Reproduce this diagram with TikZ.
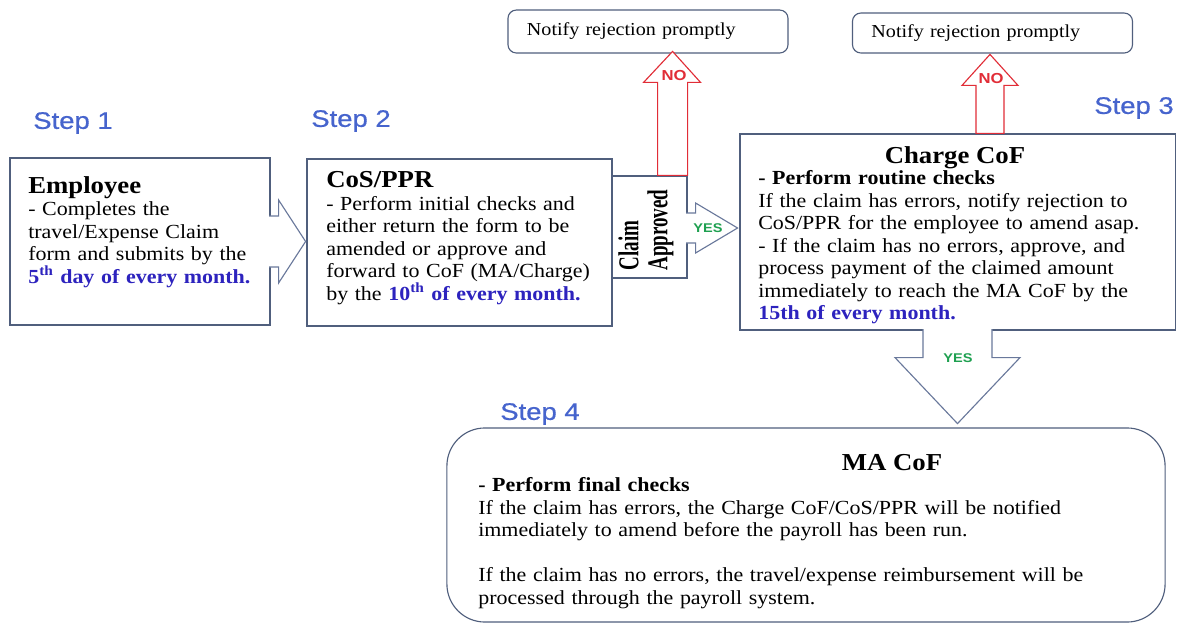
\documentclass[tikz,border=0pt]{standalone}
\usepackage{fontspec}
\setmainfont{Liberation Serif}[FakeStretch=1.1]
\setsansfont{Liberation Sans}[FakeStretch=1.15]
\newfontfamily\narrowserif{Liberation Serif}[FakeStretch=0.66]
\newfontfamily\stepfont{Liberation Sans}[FakeStretch=1.15, FakeBold=0.6]
\usetikzlibrary{positioning,calc}

\definecolor{boxline}{RGB}{80,95,125}
\definecolor{arrowline}{RGB}{105,120,155}
\definecolor{stepblue}{RGB}{70,100,205}
\definecolor{dateblue}{RGB}{45,35,190}
\definecolor{nored}{RGB}{225,45,55}
\definecolor{yesgreen}{RGB}{30,160,80}

\tikzset{
  card/.style={draw=boxline, fill=white, line width=0.8pt, inner sep=0pt},
  notebox/.style={draw=boxline, fill=white, line width=0.8pt, rounded corners=6pt, inner xsep=0.475cm, inner ysep=0pt, text width=6.05cm, align=left, font=\fontsize{13}{15}\selectfont},
  body/.style={anchor=base west, align=left, inner sep=0pt, font=\fontsize{14.2}{16}\selectfont},
  headtext/.style={inner sep=0pt, font=\bfseries\fontsize{17.3}{19}\selectfont},
  steplabel/.style={inner sep=0pt, text=stepblue, font=\stepfont\fontsize{17}{19}\selectfont},
  hollow/.style={draw=arrowline, fill=white, line width=0.8pt, line join=miter},
  redarrow/.style={draw=nored, fill=white, line width=0.8pt, line join=miter},
  nolabel/.style={inner sep=0pt, text=nored, font=\sffamily\bfseries\fontsize{10.3}{12}\selectfont},
  yeslabel/.style={inner sep=0pt, text=yesgreen, font=\sffamily\bfseries\fontsize{9}{11}\selectfont}
}

\begin{document}
\begin{tikzpicture}[x=0.025cm, y=-0.025cm]
\useasboundingbox (0,0) rectangle (1180,626);

\node[card, minimum width=6.5cm, minimum height=4.175cm] (emp) at (140,241.5) {};
\node[card, minimum width=7.625cm, minimum height=4.175cm] (cos) at (459.5,242.5) {};
\node[card, minimum width=1.875cm, minimum height=2.55cm] (claim) at (649.5,227) {};
\node[card, minimum width=10.875cm, minimum height=4.9cm] (chg) at (957.5,232) {};
\node[card, rounded corners=27pt, minimum width=17.95cm, minimum height=4.85cm] (ma) at (806,525) {};
\node[notebox, minimum height=1.075cm] (n1) at (648,31.5) {Notify rejection promptly};
\node[notebox, minimum height=1cm] (n2) at (992.5,33) {Notify rejection promptly};

\node[steplabel] (s1) at (73,123) {Step 1};
\node[steplabel] (s2) at (351,121) {Step 2};
\node[steplabel] (s3) at (1134,108) {Step 3};
\node[steplabel] (s4) at (540,414) {Step 4};

\node[body, text width=6cm] (t1) at (28,193) {{\bfseries\fontsize{17.3}{19}\selectfont Employee}\\
- Completes the\\ travel/Expense Claim\\ form and submits by the\\
\textcolor{dateblue}{\textbf{5\textsuperscript{th} day of every month.}}};
\node[body, text width=7cm] (t2) at (326,187.5) {{\bfseries\fontsize{17.3}{19}\selectfont CoS/PPR}\\
- Perform initial checks and\\ either return the form to be\\ amended or approve and\\ forward to CoF (MA/Charge)\\
by the \textcolor{dateblue}{\textbf{10\textsuperscript{th} of every month.}}};
\node[rotate=90, align=left, inner sep=0pt, font=\narrowserif\bfseries\fontsize{20.5}{20.6}\selectfont] (t3) at (646,230) {Claim\\Approved};
\node[headtext] (h4) at (955,158) {Charge CoF};
\node[body, text width=10.3cm] (t4) at (758,184.6) {\textbf{- Perform routine checks}\\
If the claim has errors, notify rejection to\\ CoS/PPR for the employee to amend asap.\\
- If the claim has no errors, approve, and\\ process payment of the claimed amount\\
immediately to reach the MA CoF by the\\ \textcolor{dateblue}{\textbf{15th of every month.}}};
\node[headtext] (h5) at (892,463) {MA CoF};
\node[body, text width=17cm] (t5) at (478,491.6) {\textbf{- Perform final checks}\\
If the claim has errors, the Charge CoF/CoS/PPR will be notified\\
immediately to amend before the payroll has been run.\\[16pt]
If the claim has no errors, the travel/expense reimbursement will be\\
processed through the payroll system.};

\draw[hollow] (emp.east) ++(-1.5,-25.5) -- ++(9.5,0) -- ++(0,-16) -- ++(27,41.5) -- ++(-27,41.5) -- ++(0,-16) -- ++(-9.5,0);
\draw[hollow] (claim.east) ++(-1.5,-14) -- ++(9.5,0) -- ++(0,-10) -- ++(42,25) -- ++(-42,25) -- ++(0,-10) -- ++(-9.5,0);
\draw[hollow] (chg.south) ++(-34.5,-1.5) -- ++(0,28.5) -- ++(-28,0) -- ++(62.5,66) -- ++(62.5,-66) -- ++(-28,0) -- ++(0,-28.5);
\draw[redarrow] (claim.north east) -- ++(0,-93) -- ++(13,0) -- ++(-28,-31) -- ++(-29,31) -- ++(14,0) -- ++(0,93) -- cycle;
\draw[redarrow] (chg.north) ++(46.5,0) -- ++(0,-48) -- ++(14,0) -- ++(-28,-31) -- ++(-28,31) -- ++(14,0) -- ++(0,48) -- cycle;

\node[nolabel] (no1) at (674,76) {NO};
\node[nolabel] (no2) at (991,79) {NO};
\node[yeslabel] (yes1) at (708,228) {YES};
\node[yeslabel] (yes2) at (958,358) {YES};
\end{tikzpicture}
\end{document}
